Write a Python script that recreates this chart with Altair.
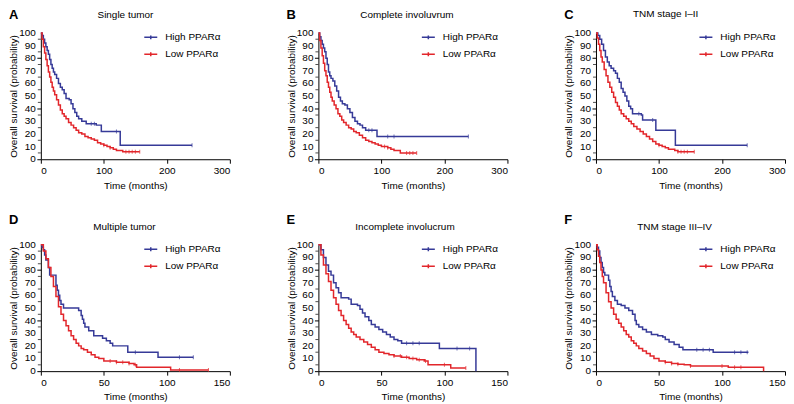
import altair as alt
import pandas as pd

# ---------------- data ----------------
letters = ["A", "B", "C", "D", "E", "F"]
titles = ["Single tumor", "Complete involuvrum", "TNM stage I\u2013II",
          "Multiple tumor", "Incomplete involucrum", "TNM stage III\u2013IV"]
x_max = [300, 300, 300, 150, 150, 150]
x_ticks = [[0, 100, 200, 300]] * 3 + [[0, 50, 100, 150]] * 3
y_ticks = [0, 10, 20, 30, 40, 50, 60, 70, 80, 90, 100]
y_minor = [5, 15, 25, 35, 45, 55, 65, 75, 85, 95]
groups = ["High PPAR\u03b1", "Low PPAR\u03b1"]

A_high_t = [0, 2, 4, 6, 8, 10, 12, 14, 16, 18, 20, 22, 25, 28, 31, 34, 37, 40, 45, 48, 51, 54, 57, 60, 65, 72, 80, 88, 96, 126, 240]
A_high_s = [100, 98, 95, 92, 89, 86, 83, 79, 75, 72, 69, 67, 64, 60, 57, 55, 52, 48, 47, 44, 40, 37, 34, 32, 30, 28, 28, 27, 22, 11, 11]
A_low_t = [0, 2, 4, 6, 8, 10, 12, 14, 16, 18, 20, 22, 25, 28, 31, 34, 37, 40, 44, 48, 52, 56, 60, 65, 70, 75, 80, 85, 90, 95, 100, 105, 110, 115, 120, 130, 157]
A_low_s = [100, 95, 89, 84, 79, 74, 69, 65, 61, 57, 54, 51, 47, 43, 39, 36, 34, 32, 29, 27, 25, 23, 21, 20, 18, 17, 16, 15, 13, 12, 11, 10, 9, 8, 7, 6, 6]
A_high_c = [80, 85, 120, 240]
A_low_c = [100, 110, 135, 140, 145, 150, 157]

B_high_t = [0, 2, 4, 6, 8, 10, 12, 14, 16, 18, 20, 23, 26, 29, 32, 35, 38, 42, 46, 50, 54, 58, 62, 66, 70, 75, 93, 238]
B_high_s = [100, 97, 94, 91, 88, 85, 80, 75, 69, 66, 64, 62, 58, 54, 49, 46, 44, 43, 40, 37, 33, 30, 28, 27, 25, 23, 18, 18]
B_low_t = [0, 2, 4, 6, 8, 10, 12, 14, 16, 18, 20, 22, 25, 28, 31, 34, 37, 40, 44, 48, 52, 56, 60, 65, 70, 75, 80, 85, 90, 95, 100, 110, 115, 120, 130, 156]
B_low_s = [100, 94, 88, 82, 76, 70, 66, 61, 57, 53, 49, 46, 43, 40, 36, 34, 31, 29, 27, 25, 24, 22, 21, 19, 17, 15, 14, 13, 12, 11, 10, 9, 8, 7, 5, 5]
B_high_c = [80, 85, 110, 120, 238]
B_low_c = [105, 110, 140, 145, 150, 156]

C_high_t = [0, 3, 6, 9, 12, 15, 18, 21, 24, 28, 31, 34, 37, 40, 43, 46, 49, 52, 55, 58, 72, 74, 95, 126, 240]
C_high_s = [100, 98, 95, 91, 86, 81, 77, 74, 72, 70, 68, 64, 61, 56, 53, 50, 46, 42, 40, 36, 35, 31, 23, 11, 11]
C_low_t = [0, 2, 4, 6, 8, 10, 13, 16, 19, 22, 25, 28, 31, 34, 37, 40, 44, 48, 52, 56, 60, 65, 70, 75, 80, 85, 90, 95, 100, 105, 110, 115, 125, 130, 156]
C_low_s = [100, 96, 91, 86, 81, 77, 71, 66, 61, 57, 53, 49, 45, 42, 39, 36, 34, 32, 30, 28, 26, 24, 22, 20, 18, 16, 14, 12, 11, 10, 9, 8, 7, 6, 6]
C_high_c = [68, 90, 240]
C_low_c = [100, 130, 135, 140, 145, 156]

D_high_t = [0, 1, 2, 3, 4, 6, 7, 11, 12, 13, 14, 15, 16, 18, 28, 30, 32, 33, 34, 35, 38, 42, 49, 52, 55, 57, 69, 93, 121]
D_high_s = [100, 98, 96, 92, 88, 82, 76, 76, 68, 64, 60, 56, 53, 50, 50, 48, 44, 41, 38, 35, 32, 28, 26, 24, 22, 20, 15, 11, 11]
D_low_t = [0, 2, 4, 6, 8, 10, 12, 14, 16, 18, 20, 22, 24, 26, 28, 30, 32, 34, 37, 40, 43, 46, 50, 55, 60, 65, 70, 74, 76, 102, 103, 133]
D_low_s = [100, 95, 89, 82, 75, 67, 59, 51, 45, 40, 36, 32, 28, 25, 22, 20, 18, 17, 15, 13, 11, 10, 8, 8, 7, 7, 6, 5, 3, 3, 1, 1]
D_high_c = [75, 110, 121]
D_low_c = [55, 60, 65, 70, 75, 110, 133]

E_high_t = [0, 2, 4, 6, 8, 10, 12, 14, 16, 18, 24, 26, 31, 33, 35, 37, 40, 42, 45, 48, 51, 54, 57, 60, 63, 66, 96, 125]
E_high_s = [100, 96, 90, 84, 79, 76, 70, 66, 62, 58, 57, 53, 52, 49, 46, 43, 40, 37, 35, 33, 31, 29, 27, 25, 24, 22, 18, 0]
E_low_t = [0, 2, 4, 6, 8, 10, 12, 14, 16, 18, 20, 22, 24, 26, 28, 30, 33, 36, 39, 42, 45, 48, 52, 56, 60, 66, 72, 78, 84, 87, 105, 117]
E_low_s = [100, 92, 84, 77, 71, 64, 58, 53, 48, 44, 40, 37, 34, 31, 29, 27, 25, 23, 21, 19, 17, 15, 14, 13, 12, 11, 10, 9, 8, 5, 2.5, 2.5]
E_high_c = [70, 75, 80, 110, 120]
E_low_c = [60, 65, 70, 75, 80, 85, 100, 117]

F_high_t = [0, 1, 2, 3, 4, 5, 6, 7, 9, 10, 11, 12, 13, 15, 17, 20, 23, 26, 29, 31, 32, 34, 37, 40, 44, 49, 53, 55, 58, 62, 66, 69, 93, 121]
F_high_s = [100, 98, 95, 90, 86, 82, 78, 76, 76, 72, 67, 63, 59, 56, 53, 52, 50, 48, 45, 40, 37, 35, 33, 31, 29, 28, 27, 25, 23, 21, 19, 17, 15, 15]
F_low_t = [0, 1, 2, 3, 4, 5, 6, 8, 10, 12, 14, 16, 18, 20, 22, 24, 26, 28, 30, 32, 34, 37, 40, 43, 46, 50, 55, 60, 65, 70, 75, 105, 133]
F_low_s = [100, 96, 91, 86, 80, 75, 70, 62, 55, 50, 45, 41, 38, 35, 32, 29, 27, 24, 22, 20, 18, 16, 14, 12, 10, 8, 7, 6, 5.5, 5, 4, 3, 0]
F_high_c = [80, 85, 90, 110, 115, 120]
F_low_c = [55, 60, 65, 75, 100, 110, 115]

curves = {
    "A": (A_high_t, A_high_s, A_low_t, A_low_s, A_high_c, A_low_c),
    "B": (B_high_t, B_high_s, B_low_t, B_low_s, B_high_c, B_low_c),
    "C": (C_high_t, C_high_s, C_low_t, C_low_s, C_high_c, C_low_c),
    "D": (D_high_t, D_high_s, D_low_t, D_low_s, D_high_c, D_low_c),
    "E": (E_high_t, E_high_s, E_low_t, E_low_s, E_high_c, E_low_c),
    "F": (F_high_t, F_high_s, F_low_t, F_low_s, F_high_c, F_low_c),
}

# ---------------- styling / layout ----------------
FONT = "Liberation Sans"
COLORS = ["#363a98", "#e2262b"]
W, H = 190, 127
letter_y = {"A": -18, "B": -18, "C": -18, "D": -25, "E": -25, "F": -25}
title_pos = {"A": (85, -18), "B": (89, -18), "C": (70, -19),
             "D": (84, -18), "E": (87, -18), "F": (79, -18)}


def step_lookup(ts, ss, t):
    v = ss[0]
    for ti, si in zip(ts, ss):
        if ti <= t:
            v = si
        else:
            break
    return v


def panel(i):
    key = letters[i]
    ht, hs, lt, ls, hc, lc = curves[key]
    df = pd.DataFrame({
        "time": ht + lt,
        "surv": hs + ls,
        "group": [groups[0]] * len(ht) + [groups[1]] * len(lt),
    })
    xs = alt.Scale(domain=[0, x_max[i]], nice=False)
    ys = alt.Scale(domain=[0, 100], nice=False)
    xax = alt.Axis(values=x_ticks[i], title="Time (months)", grid=False, labelOverlap=False,
                   tickSize=4, labelPadding=2, titlePadding=5)
    yax = alt.Axis(values=y_ticks, grid=False, labels=False,
                   tickSize=4, title="Overall survival (probability)", titlePadding=18)
    line = alt.Chart(df).mark_line(interpolate="step-after", strokeWidth=1.5).encode(
        x=alt.X("time:Q", scale=xs, axis=xax),
        y=alt.Y("surv:Q", scale=ys, axis=yax),
        color=alt.Color("group:N", sort=groups,
                        scale=alt.Scale(domain=groups, range=COLORS),
                        legend=alt.Legend(title=None, orient="none",
                                          legendX=103, legendY=-3,
                                          symbolType="M-1,0L1,0M0,-0.3L0,0.3",
                                          symbolSize=170, symbolStrokeWidth=1.5,
                                          labelFontSize=10, labelOffset=7,
                                          rowPadding=4, padding=0)),
        order=alt.Order("time:Q"),
    )
    layers = []
    for g, ts, ss, cs, col in [(groups[1], lt, ls, lc, COLORS[1]), (groups[0], ht, hs, hc, COLORS[0])]:
        cdf = pd.DataFrame({"time": cs, "surv": [step_lookup(ts, ss, c) for c in cs]})
        layers.append(alt.Chart(cdf).mark_tick(orient="vertical", size=4, thickness=1, color=col).encode(
            x=alt.X("time:Q", scale=xs), y=alt.Y("surv:Q", scale=ys)))
    minor = alt.Chart(pd.DataFrame({"v": y_minor})).mark_tick(
        orient="horizontal", size=3, thickness=1, color="black").encode(
        y=alt.Y("v:Q", scale=ys), x=alt.value(-1.5))
    ylabels = alt.Chart(pd.DataFrame({"v": y_ticks, "s": [str(v) for v in y_ticks]})).mark_text(
        align="right", baseline="middle", fontSize=10, font=FONT, color="black").encode(
        y=alt.Y("v:Q", scale=ys), x=alt.value(-5), text="s:N")
    lab = pd.DataFrame({"letter": [key], "title": [titles[i]]})
    tx, ty = title_pos[key]
    letter_txt = alt.Chart(lab).mark_text(fontWeight="bold", fontSize=13, align="left",
                                          baseline="middle", font=FONT, color="black").encode(
        text="letter:N", x=alt.value(-32), y=alt.value(letter_y[key]))
    title_txt = alt.Chart(lab).mark_text(fontSize=10, align="center", baseline="middle",
                                         font=FONT, color="black").encode(
        text="title:N", x=alt.value(tx), y=alt.value(ty))
    return alt.layer(line, *layers, minor, ylabels, letter_txt, title_txt).properties(width=W, height=H)


row1 = alt.hconcat(panel(0), panel(1), panel(2), spacing=55).resolve_scale(color="independent").resolve_legend(color="independent")
row2 = alt.hconcat(panel(3), panel(4), panel(5), spacing=55).resolve_scale(color="independent").resolve_legend(color="independent")
chart = alt.vconcat(row1, row2, spacing=24).resolve_scale(color="independent").resolve_legend(color="independent")

chart = chart.properties(padding=0, background="white").configure_view(stroke=None).configure_axis(
    labelFont=FONT, titleFont=FONT, labelFontSize=10, titleFontSize=10,
    titleFontWeight="normal", labelColor="black", titleColor="black",
    domainColor="black", tickColor="black", domainWidth=1, tickWidth=1,
).configure_legend(labelFont=FONT, labelColor="black")

chart.save("out.html", embed_options={"renderer": "svg", "actions": False})
